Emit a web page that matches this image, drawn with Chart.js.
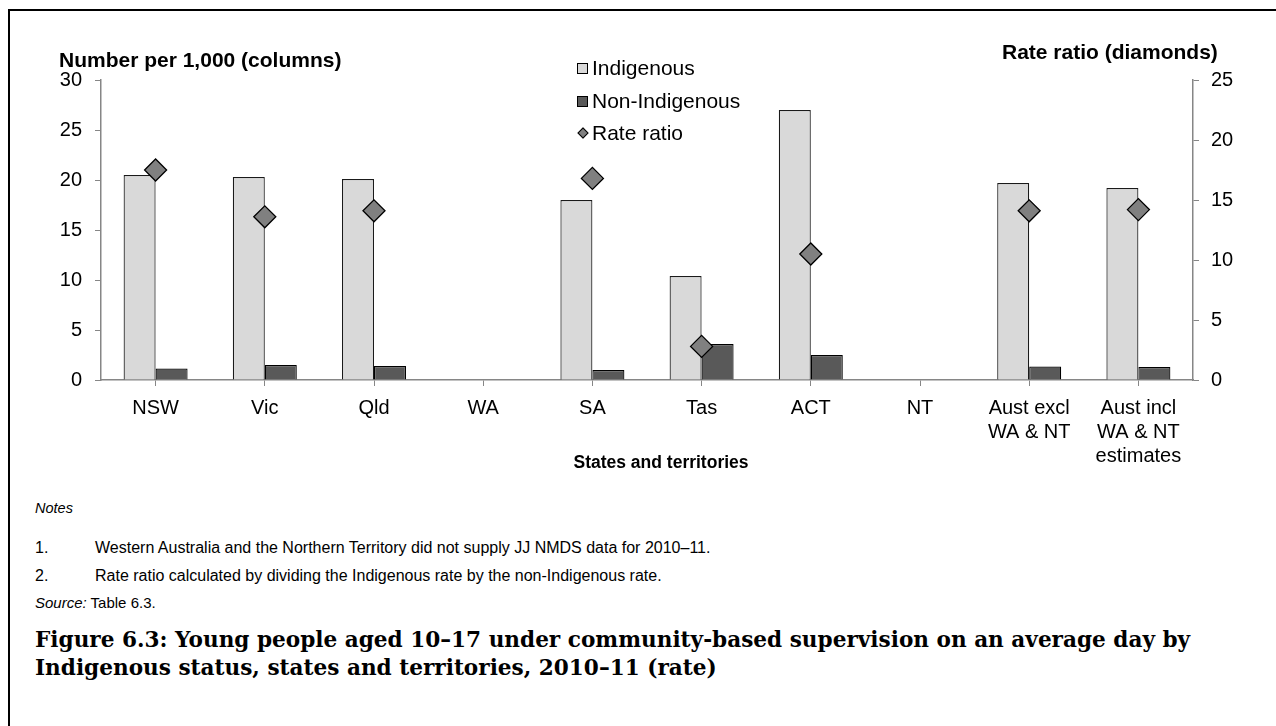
<!DOCTYPE html>
<html>
<head>
<meta charset="utf-8">
<script src="https://cdn.jsdelivr.net/npm/chart.js@4.4.1/dist/chart.umd.min.js"></script>
<style>
  html, body { margin: 0; padding: 0; background: #fff; }
  body { width: 1276px; height: 726px; position: relative; overflow: hidden; font-family: "Liberation Sans", Arial, sans-serif; color: #000; }
  #frame { position: absolute; left: 8px; top: 9px; width: 1300px; height: 800px; border-left: 2px solid #000; border-top: 2px solid #000; }
  #chartWrap { position: absolute; left: 0; top: 0; width: 1276px; height: 480px; }
  .abs { position: absolute; white-space: nowrap; }
  .ttl { font-weight: bold; font-size: 21px; line-height: 24px; }
  #legend { position: absolute; left: 576px; top: 56px; font-size: 21px; }
  #legend .item { position: absolute; left: 0; height: 24px; line-height: 24px; white-space: nowrap; }
  #legend .mk { position: absolute; box-sizing: border-box; border: 1px solid #000; }
  #legend .lbl { position: absolute; left: 16px; top: 0; }
  .note { font-size: 16px; line-height: 18px; }
  .caption { font-family: "DejaVu Serif", serif; font-weight: bold; font-size: 21.6px; line-height: 28px; }
</style>
</head>
<body>
<div id="frame"></div>
<div id="chartWrap"><canvas id="c" width="1276" height="480"></canvas></div>

<div class="abs ttl" id="yTitle" style="left:59px; top:48px;">Number per 1,000 (columns)</div>
<div class="abs ttl" id="y1Title" style="left:1002px; top:40px;">Rate ratio (diamonds)</div>
<div class="abs ttl" id="xTitle" style="left:661px; top:450px; font-size:17.5px; transform:translateX(-50%);">States and territories</div>
<div id="legend"></div>

<div class="abs note" style="left:35px; top:499px; font-style:italic; font-size:14.5px;">Notes</div>
<div class="abs note" style="left:35px; top:539px;">1.</div>
<div class="abs note" style="left:95px; top:539px;">Western Australia and the Northern Territory did not supply JJ NMDS data for 2010–11.</div>
<div class="abs note" style="left:35px; top:567px;">2.</div>
<div class="abs note" style="left:95px; top:567px;">Rate ratio calculated by dividing the Indigenous rate by the non-Indigenous rate.</div>
<div class="abs note" style="left:35px; top:594px; font-size:15px;"><i>Source:</i> Table 6.3.</div>
<div class="abs caption" style="left:35px; top:626px;">Figure 6.3: Young people aged 10–17 under community-based supervision on an average day by<br>Indigenous status, states and territories, 2010–11 (rate)</div>

<script>
// ---- Data ----
const categories = ['NSW', 'Vic', 'Qld', 'WA', 'SA', 'Tas', 'ACT', 'NT', ['Aust excl', 'WA & NT'], ['Aust incl', 'WA & NT', 'estimates']];
const indigenous = [20.5, 20.3, 20.1, null, 18.0, 10.4, 27.0, null, 19.7, 19.2];
const nonIndigenous = [1.15, 1.5, 1.4, null, 1.0, 3.6, 2.5, null, 1.35, 1.3];
const rateRatio = [17.5, 13.6, 14.1, null, 16.8, 2.8, 10.5, null, 14.1, 14.2];
const leftTicks = [0, 5, 10, 15, 20, 25, 30];
const rightTicks = [0, 5, 10, 15, 20, 25];
const seriesNames = ['Indigenous', 'Non-Indigenous', 'Rate ratio'];

const AXIS = '#868686';
const FONT = { family: '"Liberation Sans", Arial, sans-serif', size: 20, lineHeight: 1.18 };

const chart = new Chart(document.getElementById('c'), {
  data: {
    labels: categories,
    datasets: [
      { type: 'line', label: seriesNames[2], data: rateRatio, yAxisID: 'y1', showLine: false,
        pointStyle: 'rectRot', pointRadius: 11, pointHoverRadius: 11,
        pointBackgroundColor: '#808080', pointBorderColor: '#000', pointBorderWidth: 1.3, order: 0 },
      { type: 'bar', label: seriesNames[0], data: indigenous, yAxisID: 'y',
        backgroundColor: '#d9d9d9', borderColor: '#1a1a1a', borderWidth: 1.2,
        categoryPercentage: 0.586, barPercentage: 1.0, order: 1 },
      { type: 'bar', label: seriesNames[1], data: nonIndigenous, yAxisID: 'y',
        backgroundColor: '#595959', borderColor: '#000', borderWidth: 1.2,
        categoryPercentage: 0.586, barPercentage: 1.0, order: 1 }
    ]
  },
  options: {
    responsive: false,
    animation: false,
    events: [],
    layout: { padding: { top: 80, left: 0, right: 0, bottom: 0 } },
    plugins: { legend: { display: false }, tooltip: { enabled: false }, title: { display: false } },
    scales: {
      x: {
        type: 'category', offset: true,
        grid: { offset: false, drawOnChartArea: false, drawTicks: true, tickLength: 6, color: AXIS, lineWidth: 1 },
        border: { display: true, color: AXIS, width: 1.5 },
        ticks: { font: FONT, color: '#000', padding: 11, maxRotation: 0, minRotation: 0, autoSkip: false },
        afterFit: (s) => { s.height = 100; }
      },
      y: {
        position: 'left', min: 0, max: 30,
        afterBuildTicks: (s) => { s.ticks = leftTicks.map(v => ({ value: v })); },
        grid: { drawOnChartArea: false, drawTicks: true, tickLength: 6, color: AXIS },
        border: { display: true, color: AXIS, width: 1.5 },
        ticks: { font: FONT, color: '#000', padding: 13 },
        afterFit: (s) => { s.width = 101; }
      },
      y1: {
        position: 'right', min: 0, max: 25,
        afterBuildTicks: (s) => { s.ticks = rightTicks.map(v => ({ value: v })); },
        grid: { drawOnChartArea: false, drawTicks: true, tickLength: 6, color: AXIS },
        border: { display: true, color: AXIS, width: 1.5 },
        ticks: { font: FONT, color: '#000', padding: 12 },
        afterFit: (s) => { s.width = 83; }
      }
    }
  }
});

// ---- HTML legend built from the chart's datasets ----
(function buildLegend() {
  const lg = document.getElementById('legend');
  const order = [1, 2, 0];
  order.forEach((dsIndex, i) => {
    const ds = chart.data.datasets[dsIndex];
    const item = document.createElement('div');
    item.className = 'item';
    item.style.top = (i * 32.5) + 'px';
    const mk = document.createElement('div');
    mk.className = 'mk';
    if (ds.type === 'bar') {
      mk.style.left = '1px'; mk.style.top = '7px'; mk.style.width = '11px'; mk.style.height = '11px';
      mk.style.background = ds.backgroundColor;
    } else {
      mk.style.left = '3px'; mk.style.top = '8px'; mk.style.width = '8px'; mk.style.height = '8px';
      mk.style.background = ds.pointBackgroundColor;
      mk.style.transform = 'rotate(45deg)';
    }
    const lbl = document.createElement('span');
    lbl.className = 'lbl';
    lbl.textContent = ds.label;
    item.appendChild(mk); item.appendChild(lbl);
    lg.appendChild(item);
  });
})();
</script>
</body>
</html>
